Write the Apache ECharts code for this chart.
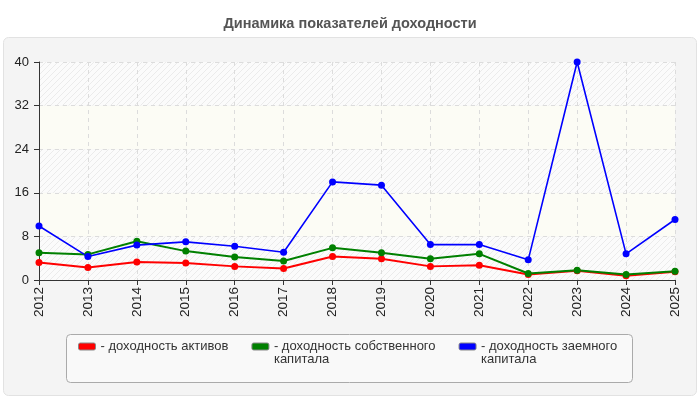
<!DOCTYPE html>
<html>
<head>
<meta charset="utf-8">
<script src="https://cdn.jsdelivr.net/npm/echarts@6/dist/echarts.min.js"></script>
<style>
html, body { margin: 0; padding: 0; background: #fff; }
#chart { width: 700px; height: 400px; }
</style>
</head>
<body>
<div id="chart"></div>
<script>
var years = ['2012', '2013', '2014', '2015', '2016', '2017', '2018', '2019', '2020', '2021', '2022', '2023', '2024', '2025'];
// доходность активов
var roa = [3.2, 2.3, 3.3, 3.1, 2.5, 2.1, 4.3, 3.9, 2.5, 2.7, 1.0, 1.7, 0.8, 1.5];
// доходность собственного капитала
var roe = [5.0, 4.7, 7.1, 5.3, 4.2, 3.5, 5.9, 5.0, 3.9, 4.8, 1.2, 1.8, 1.0, 1.6];
// доходность заемного капитала
var rod = [9.9, 4.3, 6.4, 7.0, 6.2, 5.1, 18.0, 17.4, 6.5, 6.5, 3.7, 40.0, 4.8, 11.1];
var yTicks = [0, 8, 16, 24, 32, 40];

var names = ['- доходность активов', '- доходность собственного\nкапитала', '- доходность заемного\nкапитала'];

// штриховка для полос фона
var hatch = document.createElement('canvas');
hatch.width = 6; hatch.height = 6;
var hc = hatch.getContext('2d');
hc.fillStyle = '#fbfbfb';
hc.fillRect(0, 0, 6, 6);
hc.strokeStyle = '#ebebeb';
hc.lineWidth = 1;
hc.beginPath();
hc.moveTo(0, 6); hc.lineTo(6, 0);
hc.moveTo(-1, 1); hc.lineTo(1, -1);
hc.moveTo(5, 7); hc.lineTo(7, 5);
hc.stroke();

var chart = echarts.init(document.getElementById('chart'));

function line(name, data, color, w) {
	return {
		name: name,
		type: 'line',
		data: data,
		symbol: 'circle',
		symbolSize: 7,
		lineStyle: { color: color, width: w },
		itemStyle: { color: color },
		emphasis: { disabled: true }
	};
}

chart.setOption({
	animation: false,
	textStyle: { fontFamily: 'Liberation Sans, Arial, sans-serif' },
	title: {
		text: 'Динамика показателей доходности',
		left: 'center',
		top: 11,
		textStyle: { fontSize: 14.5, fontWeight: 'bold', color: '#555' }
	},
	graphic: [
		{
			type: 'rect', z: -10, silent: true,
			shape: { x: 3.5, y: 37.5, width: 693, height: 358, r: 5 },
			style: { fill: '#f4f4f4', stroke: '#e2e2e2', lineWidth: 1 }
		},
		{
			type: 'rect', z: -5, silent: true,
			shape: { x: 66.5, y: 334.5, width: 566, height: 48, r: 4 },
			style: { fill: '#f9f9f9', stroke: '#aaaaaa', lineWidth: 1 }
		}
	],
	legend: {
		left: 78,
		top: 327,
		padding: 0,
		itemGap: 23,
		itemWidth: 17,
		itemHeight: 7,
		icon: 'roundRect',
		selectedMode: false,
		formatter: function (n) {
			// первая строка — на уровне значка
			return n.indexOf('\n') >= 0 ? '\u00a0\n' + n : n;
		},
		textStyle: { fontSize: 13, lineHeight: 13, color: '#333' },
		data: [
			{ name: names[0], itemStyle: { borderColor: '#888', borderWidth: 1 } },
			{ name: names[1], itemStyle: { borderColor: '#888', borderWidth: 1 } },
			{ name: names[2], itemStyle: { borderColor: '#888', borderWidth: 1 } }
		]
	},
	grid: { left: 39, right: 25, top: 62, bottom: 120 },
	xAxis: {
		type: 'category',
		data: years,
		boundaryGap: false,
		axisLine: { lineStyle: { color: '#333' } },
		axisTick: { alignWithLabel: true, length: 5, lineStyle: { color: '#333' } },
		axisLabel: { rotate: 90, fontSize: 13.5, color: '#222', margin: 7 },
		splitLine: { show: true, lineStyle: { color: '#dcdcdc', type: [4, 4] } }
	},
	yAxis: {
		type: 'value',
		min: yTicks[0],
		max: yTicks[yTicks.length - 1],
		interval: 8,
		axisLine: { show: true, lineStyle: { color: '#333' } },
		axisTick: { show: true, length: 5, lineStyle: { color: '#333' } },
		axisLabel: { fontSize: 13, color: '#222', margin: 10 },
		splitLine: { show: true, lineStyle: { color: '#dcdcdc', type: [4, 4] } },
		splitArea: { show: true, areaStyle: { color: [{ image: hatch, repeat: 'repeat' }, '#fcfcf5'] } }
	},
	series: [
		line(names[0], roa, '#ff0000', 2),
		line(names[1], roe, '#008000', 2),
		line(names[2], rod, '#0000ff', 1.6)
	]
});
</script>
</body>
</html>
